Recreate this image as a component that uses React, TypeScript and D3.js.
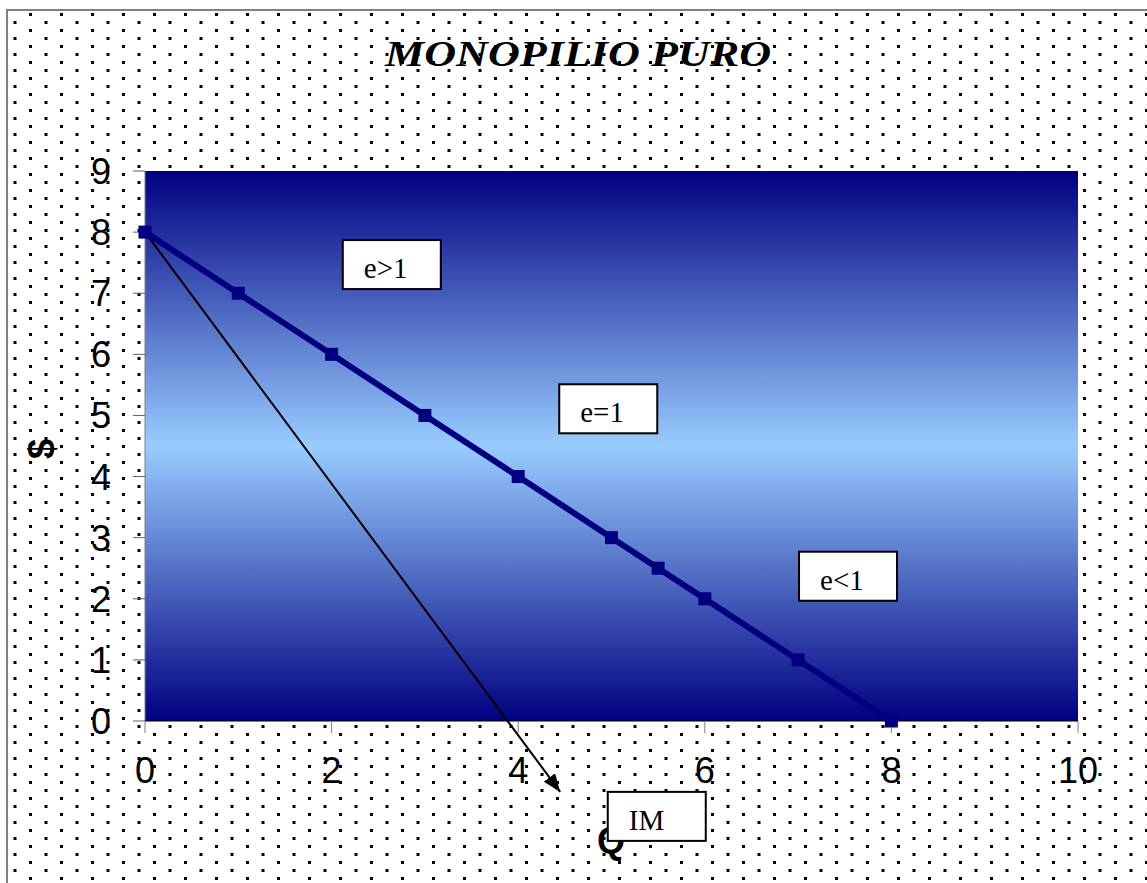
import React from "react";
import * as d3 from "d3";

const demandQ = [0, 1, 2, 3, 4, 5, 5.5, 6, 7, 8];
const demandP = [8, 7, 6, 5, 4, 3, 2.5, 2, 1, 0];
const imArrowQ = [0, 4.45];
const imArrowP = [8, -1.16];
const xTicks = [0, 2, 4, 6, 8, 10];
const yTicks = [0, 1, 2, 3, 4, 5, 6, 7, 8, 9];
const labelTexts = ["e>1", "e=1", "e<1", "IM"];
const labelQ = [2.12, 4.44, 7.01, 4.96];
const labelP = [7.87, 5.51, 2.77, -1.16];
const titleText = "MONOPILIO PURO";
const xTitle = "Q";
const yTitle = "$";

const W = 1147;
const H = 883;

export default function App() {
  const x = d3.scaleLinear().domain([0, 10]).range([145, 1078]);
  const y = d3.scaleLinear().domain([0, 9]).range([721, 171]);
  const pts = demandQ.map((q, i) => [q, demandP[i]] as [number, number]);
  const line = d3
    .line<[number, number]>()
    .x((d) => x(d[0]))
    .y((d) => y(d[1]));
  const arrowPts = imArrowQ.map((q, i) => [q, imArrowP[i]] as [number, number]);
  const sans = "'Liberation Sans', Arial, sans-serif";
  const serif = "'Liberation Serif', 'Times New Roman', serif";
  const boxW = 98;
  const boxH = 49;
  const x0 = x(0), x1 = x(10), yTop = y(9), yBot = y(0);

  return (
    <svg
      width={W}
      height={H}
      style={{ position: "absolute", left: 0, top: 0, background: "#fff" }}
    >
      <defs>
        <pattern id="dots" patternUnits="userSpaceOnUse" x={-2} y={13} width={31} height={16}>
          <rect x={0} y={0} width={3} height={3} fill="#000" />
          <rect x={15.5} y={8} width={3} height={3} fill="#000" />
        </pattern>
        <linearGradient id="bg" x1="0" y1="0" x2="0" y2="1">
          <stop offset="0%" stopColor="#000080" />
          <stop offset="50%" stopColor="#99CCFF" />
          <stop offset="100%" stopColor="#000080" />
        </linearGradient>
        <marker
          id="arrow"
          markerUnits="userSpaceOnUse"
          markerWidth={20}
          markerHeight={14}
          refX={18}
          refY={7}
          orient="auto"
        >
          <path d="M0,0 L18,7 L0,14 Z" fill="#000" />
        </marker>
      </defs>
      <rect x={7} y={10} width={1160} height={900} fill="url(#dots)" stroke="#808080" strokeWidth={2} />

      <text
        x={385}
        y={66}
        fontFamily={serif}
        fontWeight="bold"
        fontStyle="italic"
        fontSize={36}
        textLength={386}
        lengthAdjust="spacingAndGlyphs"
        fill="#000"
      >
        {titleText}
      </text>

      <rect x={x0} y={yTop} width={x1 - x0} height={yBot - yTop} fill="url(#bg)" />

      {/* y axis */}
      <line x1={x0} x2={x0} y1={yTop} y2={yBot} stroke="#808080" strokeWidth={1} />
      {yTicks.map((t) => (
        <g key={"y" + t}>
          <line x1={x0 - 12} x2={x0} y1={y(t)} y2={y(t)} stroke="#606060" strokeWidth={1} />
          <text
            x={111}
            y={y(t) + 13}
            textAnchor="end"
            fontFamily={sans}
            fontSize={36}
            fill="#000"
          >
            {t}
          </text>
        </g>
      ))}

      {/* x axis */}
      <line x1={x0} x2={x1} y1={yBot} y2={yBot} stroke="#000" strokeWidth={1} />
      {xTicks.map((t) => (
        <g key={"x" + t}>
          <line x1={x(t)} x2={x(t)} y1={yBot} y2={yBot + 12} stroke="#808080" strokeWidth={1} />
          <text
            x={x(t)}
            y={783}
            textAnchor="middle"
            fontFamily={sans}
            fontSize={36}
            fill="#000"
          >
            {t}
          </text>
        </g>
      ))}

      {/* marginal revenue arrow */}
      <path d={line(arrowPts) || ""} fill="none" stroke="#000" strokeWidth={2} markerEnd="url(#arrow)" />

      {/* demand line */}
      <path d={line(pts) || ""} fill="none" stroke="#000080" strokeWidth={6} />
      {pts.map((d, i) => (
        <rect
          key={"m" + i}
          x={x(d[0]) - 6.5}
          y={y(d[1]) - 6.5}
          width={13}
          height={13}
          fill="#000080"
        />
      ))}

      {/* axis titles */}
      <text
        transform={`translate(54,449) rotate(-90)`}
        textAnchor="middle"
        fontFamily={sans}
        fontWeight="bold"
        fontSize={36}
        fill="#000"
      >
        {yTitle}
      </text>
      <text x={611} y={853} textAnchor="middle" fontFamily={sans} fontWeight="bold" fontSize={36} fill="#000">
        {xTitle}
      </text>

      {/* annotation boxes */}
      {labelTexts.map((txt, i) => {
        const bx = x(labelQ[i]);
        const by = y(labelP[i]);
        return (
          <g key={"l" + i}>
            <rect x={bx} y={by} width={boxW} height={boxH} fill="#fff" stroke="#000" strokeWidth={2} />
            <text x={bx + 21} y={by + 38} fontFamily={serif} fontSize={29} fill="#000">
              {txt}
            </text>
          </g>
        );
      })}
    </svg>
  );
}
